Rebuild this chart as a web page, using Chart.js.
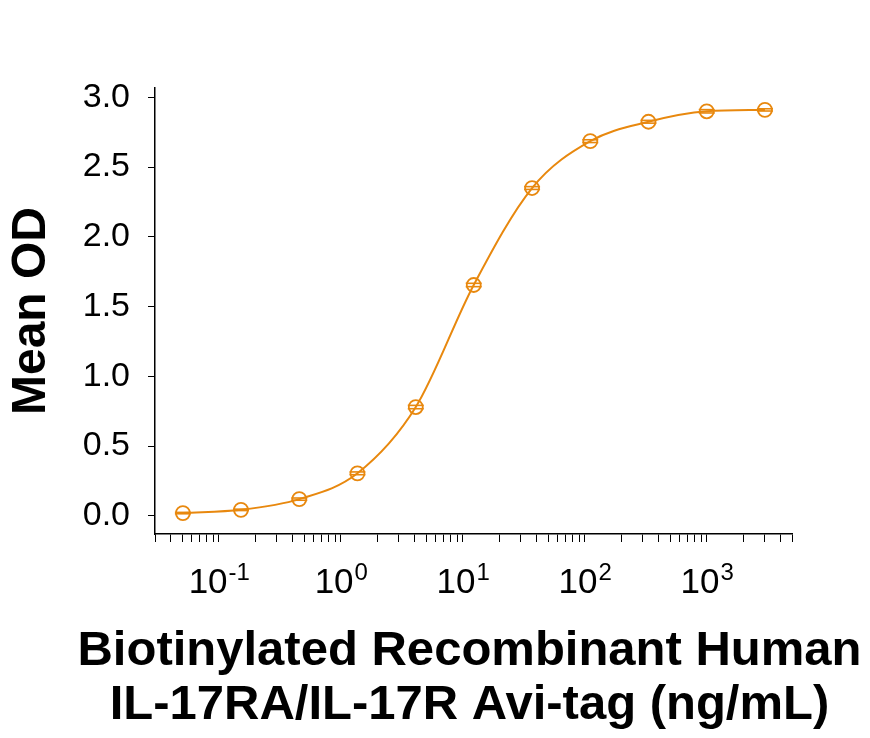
<!DOCTYPE html>
<html>
<head>
<meta charset="utf-8">
<script src="https://cdn.jsdelivr.net/npm/chart.js@4.4.1/dist/chart.umd.min.js"></script>
<style>
  html, body { margin: 0; padding: 0; background: #fff; }
  #wrap { width: 870px; height: 738px; position: relative; }
</style>
</head>
<body>
<div id="wrap"><canvas id="myChart"></canvas></div>
<script>
// concentrations in ng/mL (3-fold dilutions) and the mean OD read at each
var concentrations = [0.0508, 0.152, 0.457, 1.37, 4.12, 12.3, 37.0, 111, 333, 1000, 3000];
var meanOD = [0.02, 0.043, 0.12, 0.305, 0.78, 1.655, 2.35, 2.686, 2.825, 2.90, 2.91];
var sdOD = [0.005, 0.005, 0.008, 0.01, 0.012, 0.012, 0.01, 0.01, 0.01, 0.012, 0.008];

// axis ticks
var yTickValues = [0, 0.5, 1.0, 1.5, 2.0, 2.5, 3.0];
var xDecades = [0.1, 1, 10, 100, 1000];
var xExponents = ['-1', '0', '1', '2', '3'];
var xTitle = ['Biotinylated Recombinant Human', 'IL-17RA/IL-17R Avi-tag (ng/mL)'];
var yTitle = 'Mean OD';

var orange = '#E8880E';
var fontName = 'Arial, "Liberation Sans", Helvetica, sans-serif';

// minor + major tick positions on the log axis (1..9 x each decade)
var xTickValues = [];
[0.01, 0.1, 1, 10, 100, 1000].forEach(function (d) {
  for (var m = 1; m <= 9; m++) {
    var v = +(m * d).toPrecision(3);
    if (v >= 0.03 && v <= 5000) xTickValues.push(v);
  }
});

// draws "10" with a raised exponent under each decade tick,
// plus the two-line x title (chart.js would squeeze it to the axis width)
var powerLabels = {
  id: 'powerLabels',
  afterDraw: function (chart) {
    var ctx = chart.ctx, xs = chart.scales.x;
    var baseY = xs.top + 59;
    ctx.save();
    ctx.fillStyle = '#000';
    ctx.textAlign = 'left';
    ctx.textBaseline = 'alphabetic';
    for (var i = 0; i < xDecades.length; i++) {
      var px = xs.getPixelForValue(xDecades[i]);
      ctx.font = '35px ' + fontName;
      var wBase = ctx.measureText('10').width;
      ctx.font = '24px ' + fontName;
      var wExp = ctx.measureText(xExponents[i]).width;
      var left = px - (wBase + wExp) / 2;
      ctx.font = '35px ' + fontName;
      ctx.fillText('10', left, baseY);
      ctx.font = '24px ' + fontName;
      ctx.fillText(xExponents[i], left + wBase + 1, baseY - 13);
    }
    // x title
    ctx.font = 'bold 49px ' + fontName;
    ctx.textAlign = 'center';
    var cx = (xs.left + xs.right) / 2 - 4;
    ctx.fillText(xTitle[0], cx, xs.top + 131);
    ctx.fillText(xTitle[1], cx, xs.top + 185);
    ctx.restore();
  }
};

// little error-bar caps through each marker
var errorCaps = {
  id: 'errorCaps',
  afterDatasetsDraw: function (chart) {
    var ctx = chart.ctx, ys = chart.scales.y;
    var meta = chart.getDatasetMeta(0);
    ctx.save();
    ctx.strokeStyle = orange;
    ctx.lineWidth = 1.6;
    meta.data.forEach(function (pt, i) {
      [meanOD[i] - sdOD[i], meanOD[i] + sdOD[i]].forEach(function (v) {
        var py = ys.getPixelForValue(v);
        ctx.beginPath();
        ctx.moveTo(pt.x - 8, py);
        ctx.lineTo(pt.x + 8, py);
        ctx.stroke();
      });
    });
    ctx.restore();
  }
};

var points = concentrations.map(function (c, i) { return { x: c, y: meanOD[i] }; });

var ctx1 = document.getElementById('myChart').getContext('2d');
var myChart = new Chart(ctx1, {
  type: 'line',
  data: {
    datasets: [{
      data: points,
      borderColor: orange,
      borderWidth: 2,
      cubicInterpolationMode: 'monotone',
      pointStyle: 'circle',
      pointRadius: 7,
      pointBorderWidth: 1.8,
      pointBorderColor: orange,
      pointBackgroundColor: 'rgba(0,0,0,0)',
      fill: false
    }]
  },
  options: {
    responsive: true,
    maintainAspectRatio: false,
    animation: false,
    layout: { padding: { top: 88, right: 78, left: 0, bottom: 0 } },
    plugins: {
      legend: { display: false },
      tooltip: { enabled: false }
    },
    scales: {
      x: {
        type: 'logarithmic',
        position: 'bottom',
        min: 0.03,
        max: 5000,
        afterBuildTicks: function (scale) {
          scale.ticks = xTickValues.map(function (v) { return { value: v }; });
        },
        afterFit: function (scale) { scale.height = 204; },
        border: { display: true, color: '#000', width: 1.5 },
        grid: { drawOnChartArea: false, drawTicks: true, tickLength: 8, color: '#000', lineWidth: 1 },
        ticks: {
          autoSkip: false,
          maxRotation: 0,
          callback: function () { return ''; }
        },
        title: { display: false }
      },
      y: {
        type: 'linear',
        min: -0.13,
        max: 3.067,
        afterBuildTicks: function (scale) {
          scale.ticks = yTickValues.map(function (v) { return { value: v }; });
        },
        afterFit: function (scale) { scale.width = 155; },
        border: { display: true, color: '#000', width: 1.5 },
        grid: { drawOnChartArea: false, drawTicks: true, tickLength: 7, color: '#000', lineWidth: 1 },
        ticks: {
          color: '#000',
          padding: 18,
          font: { family: fontName, size: 34 },
          callback: function (v) { return Number(v).toFixed(1); }
        },
        title: {
          display: true,
          text: yTitle,
          color: '#000',
          font: { family: fontName, size: 48, weight: 'bold', lineHeight: 1.2 },
          padding: { top: 3, bottom: 0 }
        }
      }
    }
  },
  plugins: [powerLabels, errorCaps]
});
</script>
</body>
</html>
